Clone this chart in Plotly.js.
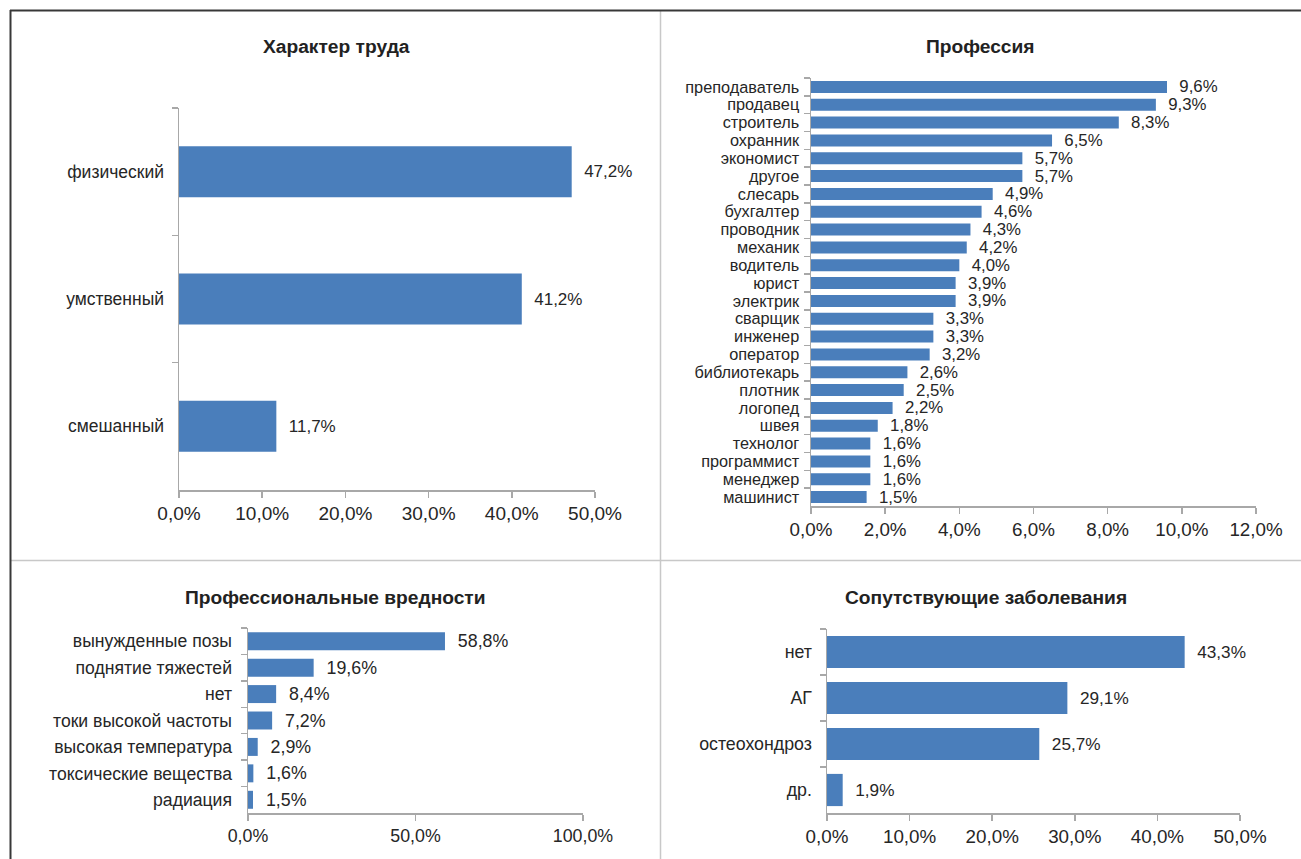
<!DOCTYPE html>
<html>
<head>
<meta charset="utf-8">
<script src="https://cdn.plot.ly/plotly-3.0.1.min.js"></script>
<style>html,body{margin:0;padding:0;background:#fff;}#chart{width:1301px;height:859px;}</style>
</head>
<body>
<div id="chart"></div>
<script>
// Panel 1: Характер труда
const laborCats = ['физический', 'умственный', 'смешанный'];
const laborVals = [47.2, 41.2, 11.7];

// Panel 2: Профессия
const profCats = ['преподаватель', 'продавец', 'строитель', 'охранник', 'экономист', 'другое', 'слесарь', 'бухгалтер', 'проводник', 'механик', 'водитель', 'юрист', 'электрик', 'сварщик', 'инженер', 'оператор', 'библиотекарь', 'плотник', 'логопед', 'швея', 'технолог', 'программист', 'менеджер', 'машинист'];
const profVals = [9.6, 9.3, 8.3, 6.5, 5.7, 5.7, 4.9, 4.6, 4.3, 4.2, 4.0, 3.9, 3.9, 3.3, 3.3, 3.2, 2.6, 2.5, 2.2, 1.8, 1.6, 1.6, 1.6, 1.5];

// Panel 3: Профессиональные вредности
const hazardCats = ['вынужденные позы', 'поднятие тяжестей', 'нет', 'токи высокой частоты', 'высокая температура', 'токсические вещества', 'радиация'];
const hazardVals = [58.8, 19.6, 8.4, 7.2, 2.9, 1.6, 1.5];

// Panel 4: Сопутствующие заболевания
const diseaseCats = ['нет', 'АГ', 'остеохондроз', 'др.'];
const diseaseVals = [43.3, 29.1, 25.7, 1.9];

const titles = ['Характер труда', 'Профессия', 'Профессиональные вредности', 'Сопутствующие заболевания'];

const W = 1301, H = 859;
const px = v => v / W;
const py = v => 1 - v / H;
const FONT = '"Liberation Sans", Arial, sans-serif';
const BAR = '#4a7ebb';
const AXC = '#a8a8a8';
const TXT = '#262626';

const fmt = v => '\u00a0\u00a0' + v.toFixed(1).replace('.', ',') + '%';

function barTrace(cats, vals, xa, ya, fs) {
  return {
    type: 'bar', orientation: 'h', x: vals, y: cats,
    xaxis: xa, yaxis: ya,
    marker: {color: BAR, line: {width: 0}},
    text: vals.map(fmt), textposition: 'outside', constraintext: 'none',
    cliponaxis: false,
    textfont: {family: FONT, size: fs, color: TXT},
    hoverinfo: 'skip', showlegend: false
  };
}

const data = [
  barTrace(laborCats, laborVals, 'x', 'y', 17),
  barTrace(profCats, profVals, 'x2', 'y2', 16.8),
  barTrace(hazardCats, hazardVals, 'x3', 'y3', 17.8),
  barTrace(diseaseCats, diseaseVals, 'x4', 'y4', 17.2)
];
data[0].width = 0.4;
data[1].width = 0.67;
data[2].width = 0.68;
data[3].width = 0.7;

function xAxis(dom, range, dtick, anchor, fs) {
  return {
    domain: dom, anchor: anchor, range: range, dtick: dtick, tick0: 0,
    showgrid: false, zeroline: false, showline: true, linecolor: AXC, linewidth: 1.5,
    ticks: 'outside', ticklen: 6, tickcolor: AXC, tickwidth: 1.5,
    tickformat: '.1f', ticksuffix: '%',
    tickfont: {family: FONT, size: fs, color: TXT}, fixedrange: true
  };
}
function yAxis(dom, anchor, fs, standoff) {
  return {
    domain: dom, anchor: anchor, type: 'category', autorange: 'reversed',
    tickmode: 'linear', dtick: 1, tick0: 0,
    showgrid: false, zeroline: false, showline: true, linecolor: AXC, linewidth: 1.5,
    ticks: 'outside', ticklen: 6, tickcolor: AXC, tickwidth: 1.5, tickson: 'boundaries',
    ticklabelstandoff: standoff,
    tickfont: {family: FONT, size: fs, color: TXT}, fixedrange: true
  };
}

const annotations = [
  [titles[0], 336, 47], [titles[1], 980, 47], [titles[2], 335, 597], [titles[3], 986, 597]
].map(([t, x, y]) => ({
  text: '<b>' + t + '</b>', xref: 'paper', yref: 'paper', x: px(x), y: py(y),
  xanchor: 'center', yanchor: 'middle', showarrow: false,
  font: {family: FONT, size: 19.2, color: '#222'}
}));

const shapes = [
  // dividers
  {type: 'line', xref: 'paper', yref: 'paper', x0: px(660.5), x1: px(660.5), y0: py(11), y1: py(860), line: {color: '#c8c8c8', width: 1.5}},
  {type: 'line', xref: 'paper', yref: 'paper', x0: px(11), x1: px(1302), y0: py(560.5), y1: py(560.5), line: {color: '#c8c8c8', width: 1.5}},
  // outer frame (top and left)
  {type: 'line', xref: 'paper', yref: 'paper', x0: px(10), x1: px(1305), y0: py(10.5), y1: py(10.5), line: {color: '#383838', width: 2}},
  {type: 'line', xref: 'paper', yref: 'paper', x0: px(10.5), x1: px(10.5), y0: py(10), y1: py(865), line: {color: '#383838', width: 2}}
];

const layout = {
  width: W, height: H, margin: {l: 0, r: 0, t: 0, b: 0},
  paper_bgcolor: '#fff', plot_bgcolor: 'rgba(0,0,0,0)',
  separators: ', ', showlegend: false,
  font: {family: FONT, color: TXT},
  xaxis: xAxis([px(179), px(595)], [0, 50], 10, 'y', 19),
  yaxis: yAxis([py(490), py(108)], 'x', 17.5, 10),
  xaxis2: xAxis([px(811), px(1256)], [0, 12], 2, 'y2', 18.8),
  yaxis2: yAxis([py(506), py(78)], 'x2', 16.3, 7),
  xaxis3: xAxis([px(248), px(583)], [0, 100], 50, 'y3', 17.8),
  yaxis3: yAxis([py(813), py(628)], 'x3', 17.6, 11),
  xaxis4: xAxis([px(827), px(1240)], [0, 50], 10, 'y4', 18.8),
  yaxis4: yAxis([py(813), py(629)], 'x4', 17.8, 10),
  annotations: annotations,
  shapes: shapes
};

Plotly.newPlot('chart', data, layout, {displayModeBar: false, staticPlot: true});
</script>
</body>
</html>
